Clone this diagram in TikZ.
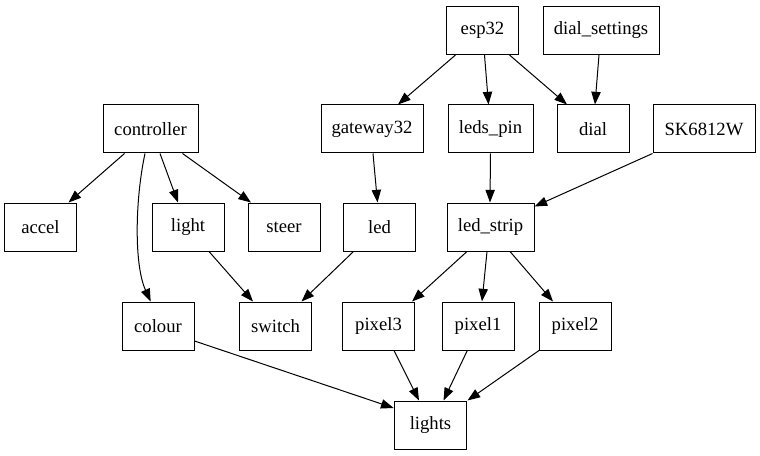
\documentclass[tikz,border=0pt]{standalone}
\usepackage{fontspec}
\setmainfont{Liberation Serif}
\usetikzlibrary{arrows.meta}
\begin{document}
\begin{tikzpicture}[x=0.75pt,y=-0.75pt,
 box/.style={draw, line width=0.75pt, minimum height=36pt, minimum width=54.5pt, inner sep=0pt, font=\fontsize{14}{16}\selectfont},
 edge/.style={line width=0.75pt, -{Triangle[length=9.5pt,width=7pt]}}]
\useasboundingbox (0,0) rectangle (760,456);
% row 1
\node[box] (esp32) at (482.5,30.5) {esp32};
\node[box, minimum width=87pt] (dialsettings) at (601,30.5) {dial\_settings};
% row 2
\node[box, minimum width=71.25pt] (controller) at (150.5,129) {controller};
\node[box, minimum width=76.5pt] (gateway32) at (372,129) {gateway32};
\node[box, minimum width=63.75pt] (ledspin) at (490.5,129) {leds\_pin};
\node[box, minimum width=54pt] (dial) at (593,129) {dial};
\node[box, minimum width=76.5pt] (sk) at (704,129) {SK6812W};
% row 3
\node[box] (accel) at (40.5,227) {accel};
\node[box, minimum width=54pt] (light) at (188,227) {light};
\node[box, minimum width=54pt] (steer) at (284,227) {steer};
\node[box] (led) at (379.5,227) {led};
\node[box, minimum width=65.25pt] (ledstrip) at (490.5,227) {led\_strip};
% row 4
\node[box, minimum width=54pt] (colour) at (158,326) {colour};
\node[box] (switch) at (275.5,326) {switch};
\node[box, minimum width=53.5pt] (pixel3) at (378.5,326) {pixel3};
\node[box, minimum width=54pt] (pixel1) at (478,326) {pixel1};
\node[box, minimum width=54pt] (pixel2) at (575,326) {pixel2};
% row 5
\node[box] (lights) at (430.5,425) {lights};
% edges
\draw[edge] ([shift={(-27,0)}]esp32.south) -- ([shift={(26,0)}]gateway32.north);
\draw[edge] ([shift={(2,0)}]esp32.south) -- ([shift={(-2,0)}]ledspin.north);
\draw[edge] ([shift={(27,0)}]esp32.south) -- ([shift={(-26,0)}]dial.north);
\draw[edge] ([shift={(-2,0)}]dialsettings.south) -- ([shift={(2,0)}]dial.north);
\draw[edge] ([shift={(-26,0)}]controller.south) -- ([shift={(28,0)}]accel.north);
\draw[edge] ([shift={(9.5,0)}]controller.south) -- ([shift={(-10,0)}]light.north);
\draw[edge] ([shift={(32,0)}]controller.south) -- ([shift={(-33,0)}]steer.north);
\draw[edge] ([shift={(-5.5,0)}]controller.south) .. controls (135,200) and (134,265) .. ([shift={(-7.3,0)}]colour.north);
\draw[edge] ([shift={(1,0)}]gateway32.south) -- ([shift={(-2,0)}]led.north);
\draw[edge] (ledspin.south) -- ([shift={(-0.5,0)}]ledstrip.north);
\draw[edge] (sk.south west) -- ([shift={(0,4)}]ledstrip.north east);
\draw[edge] ([shift={(21,0)}]light.south) -- ([shift={(-22.5,0)}]switch.north);
\draw[edge] ([shift={(-26,0)}]led.south) -- ([shift={(26,0)}]switch.north);
\draw[edge] ([shift={(-23.5,0)}]ledstrip.south) -- ([shift={(33.5,0)}]pixel3.north);
\draw[edge] ([shift={(-3.5,0)}]ledstrip.south) -- ([shift={(4,0)}]pixel1.north);
\draw[edge] ([shift={(19.5,0)}]ledstrip.south) -- ([shift={(-22,0)}]pixel2.north);
\draw[edge] ([shift={(0,15)}]colour.east) -- ([shift={(0,-17)}]lights.west);
\draw[edge] ([shift={(15.5,0)}]pixel3.south) -- ([shift={(-11.5,0)}]lights.north);
\draw[edge] ([shift={(-10.7,0)}]pixel1.south) -- ([shift={(13,0)}]lights.north);
\draw[edge] ([shift={(-36,0)}]pixel2.south) -- ([shift={(37,0)}]lights.north);
\end{tikzpicture}
\end{document}
